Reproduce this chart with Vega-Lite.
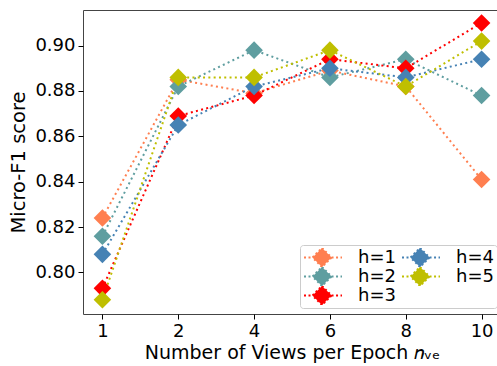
{
  "$schema": "https://vega.github.io/schema/vega-lite/v6.json",
  "width": 418,
  "height": 304,
  "autosize": {"type": "none"},
  "padding": {"left": 83, "top": 10, "right": 0, "bottom": 52},
  "background": "white",
  "config": {
    "font": "DejaVu Sans",
    "view": {"stroke": "#444", "strokeWidth": 1},
    "axis": {
      "labelFont": "DejaVu Sans",
      "labelFontSize": 18,
      "labelColor": "black",
      "titleFont": "DejaVu Sans",
      "titleFontSize": 19,
      "titleFontWeight": "normal",
      "titleColor": "black",
      "tickColor": "black",
      "tickSize": 5,
      "tickWidth": 1,
      "labelPadding": 3,
      "domain": false,
      "grid": false
    }
  },
  "data": {
    "values": [
      {"h": "h=1", "nve": 1, "f1": 0.824},
      {"h": "h=1", "nve": 2, "f1": 0.885},
      {"h": "h=1", "nve": 4, "f1": 0.879},
      {"h": "h=1", "nve": 6, "f1": 0.889},
      {"h": "h=1", "nve": 8, "f1": 0.882},
      {"h": "h=1", "nve": 10, "f1": 0.841},
      {"h": "h=2", "nve": 1, "f1": 0.816},
      {"h": "h=2", "nve": 2, "f1": 0.882},
      {"h": "h=2", "nve": 4, "f1": 0.898},
      {"h": "h=2", "nve": 6, "f1": 0.886},
      {"h": "h=2", "nve": 8, "f1": 0.894},
      {"h": "h=2", "nve": 10, "f1": 0.878},
      {"h": "h=3", "nve": 1, "f1": 0.793},
      {"h": "h=3", "nve": 2, "f1": 0.869},
      {"h": "h=3", "nve": 4, "f1": 0.878},
      {"h": "h=3", "nve": 6, "f1": 0.894},
      {"h": "h=3", "nve": 8, "f1": 0.890},
      {"h": "h=3", "nve": 10, "f1": 0.910},
      {"h": "h=4", "nve": 1, "f1": 0.808},
      {"h": "h=4", "nve": 2, "f1": 0.865},
      {"h": "h=4", "nve": 4, "f1": 0.882},
      {"h": "h=4", "nve": 6, "f1": 0.890},
      {"h": "h=4", "nve": 8, "f1": 0.886},
      {"h": "h=4", "nve": 10, "f1": 0.894},
      {"h": "h=5", "nve": 1, "f1": 0.788},
      {"h": "h=5", "nve": 2, "f1": 0.886},
      {"h": "h=5", "nve": 4, "f1": 0.886},
      {"h": "h=5", "nve": 6, "f1": 0.898},
      {"h": "h=5", "nve": 8, "f1": 0.882},
      {"h": "h=5", "nve": 10, "f1": 0.902}
    ]
  },
  "encoding": {
    "x": {
      "field": "nve",
      "type": "ordinal",
      "scale": {"type": "point", "padding": 0.256},
      "axis": {"labelAngle": 0, "title": "Number of Views per Epoch 𝑛ᵥₑ", "titlePadding": 3}
    },
    "y": {
      "field": "f1",
      "type": "quantitative",
      "scale": {"domain": [0.7817, 0.9157], "nice": false, "zero": false},
      "axis": {"values": [0.80, 0.82, 0.84, 0.86, 0.88, 0.90], "format": ".2f", "title": "Micro-F1 score", "titleFontSize": 19.5, "titlePadding": 6}
    },
    "color": {
      "field": "h",
      "type": "nominal",
      "scale": {
        "domain": ["h=1", "h=2", "h=3", "h=4", "h=5"],
        "range": ["#FF7F50", "#5F9EA0", "#FF0000", "#4682B4", "#BFBF00"]
      },
      "legend": {
        "orient": "none",
        "legendX": 217,
        "legendY": 235,
        "columns": 2,
        "title": null,
        "symbolType": "M-1,0L0,0M2.24,0L3.47,0M1.12,-1.12L2.24,0L1.12,1.12L0,0Z",
        "symbolSize": 289,
        "symbolStrokeWidth": 2,
        "symbolDash": [2, 2.5],
        "symbolOpacity": 1,
        "clipHeight": 19,
        "labelFont": "DejaVu Sans",
        "labelFontSize": 18,
        "labelColor": "black",
        "labelOffset": 36,
        "columnPadding": 5,
        "rowPadding": 0,
        "padding": 3,
        "strokeColor": "#cccccc",
        "cornerRadius": 3,
        "fillColor": "white",
        "encode": {
          "symbols": {
            "update": {
              "fill": {"scale": "color", "field": "value"},
              "stroke": {"scale": "color", "field": "value"},
              "opacity": {"value": 1}
            }
          }
        }
      }
    }
  },
  "layer": [
    {
      "mark": {"type": "line", "strokeWidth": 2, "strokeDash": [2, 3.3]}
    },
    {
      "mark": {"type": "point", "shape": "diamond", "filled": true, "size": 310, "opacity": 1}
    }
  ]
}
